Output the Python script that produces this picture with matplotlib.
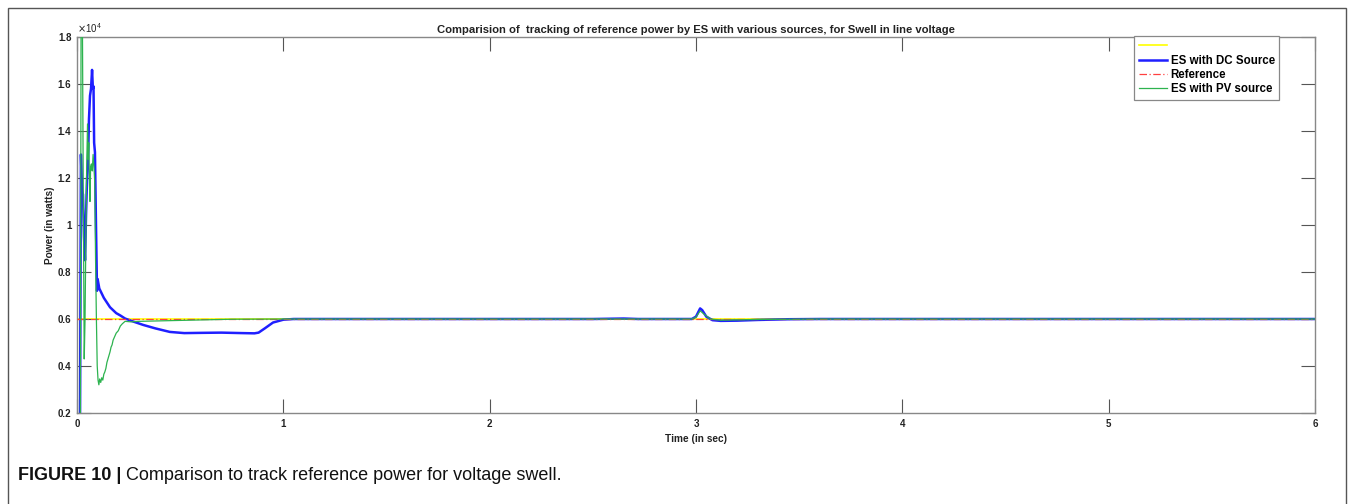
import matplotlib
matplotlib.use("Agg")
import matplotlib.pyplot as plt
from matplotlib.ticker import FuncFormatter, FixedLocator
from matplotlib.patches import Rectangle

# ---------------- data ----------------
time_dc = [0.0, 0.014, 0.019, 0.024, 0.029, 0.034, 0.039, 0.044, 0.049, 0.053,
           0.058, 0.063, 0.068, 0.073, 0.077, 0.080, 0.083, 0.087, 0.092, 0.097,
           0.100, 0.104, 0.108, 0.13, 0.16, 0.19, 0.21, 0.233, 0.27, 0.32,
           0.38, 0.45, 0.52, 0.6, 0.7, 0.8, 0.86, 0.88, 0.91, 0.95,
           1.0, 1.05, 1.5, 2.0, 2.5, 2.65, 2.72, 2.98, 3.0, 3.02,
           3.03, 3.05, 3.08, 3.12, 3.2, 3.3, 3.45, 3.6, 4.0, 5.0, 6.0]
power_dc = [0, 0, 13000, 11500, 11300, 9500, 8500, 10500, 12000, 12500,
            14500, 15500, 15800, 16600, 15800, 15900, 13500, 13100, 10000, 7200,
            7700, 7500, 7300, 6900, 6500, 6250, 6150, 6020, 5900, 5750,
            5600, 5450, 5400, 5410, 5420, 5400, 5390, 5420, 5600, 5850,
            5970, 6000, 6000, 6000, 6000, 6020, 6000, 6000, 6100, 6450,
            6380, 6100, 5950, 5920, 5930, 5960, 5990, 6000, 6000, 6000, 6000]

time_pv = [0.0, 0.016, 0.02, 0.026, 0.03, 0.035, 0.039, 0.043, 0.047, 0.051,
           0.054, 0.057, 0.06, 0.063, 0.066, 0.07, 0.074, 0.078, 0.082, 0.086,
           0.09, 0.094, 0.098, 0.102, 0.106, 0.11, 0.115, 0.12, 0.125, 0.13,
           0.135, 0.14, 0.145, 0.15, 0.155, 0.16, 0.165, 0.17, 0.175, 0.18,
           0.185, 0.19, 0.2, 0.21, 0.22, 0.233, 0.26, 0.3, 0.4, 0.5,
           0.6, 0.75, 1.0, 2.98, 3.0, 3.02, 3.04, 3.07, 3.12, 3.3, 3.6, 6.0]
power_pv = [0, 0, 20000, 19000, 12000, 4300, 6000, 9500, 12500, 14300,
            12800, 13500, 12000, 11000, 12500, 12600, 12300, 13000, 12500, 11800,
            8500, 6000, 4000, 3400, 3200, 3450, 3300, 3500, 3400, 3650,
            3750, 3900, 4150, 4300, 4450, 4600, 4800, 4900, 5100, 5200,
            5300, 5400, 5500, 5700, 5800, 5900, 5880, 5900, 5920, 5940,
            5960, 5990, 6000, 6000, 6080, 6350, 6200, 6000, 5950, 5980, 6000, 6000]

time_ref = [0.0, 6.0]
power_ref = [6000, 6000]

x_ticks = [0, 1, 2, 3, 4, 5, 6]
y_ticks = [2000, 4000, 6000, 8000, 10000, 12000, 14000, 16000, 18000]

labels = [" ", "ES with DC Source", "Reference", "ES with PV source"]
title = "Comparision of  tracking of reference power by ES with various sources, for Swell in line voltage"
caption_bold = "FIGURE 10 |"
caption_rest = " Comparison to track reference power for voltage swell."

# ---------------- figure ----------------
plt.rcParams["font.family"] = ["Liberation Sans", "DejaVu Sans"]
W, H = 1355, 504
fig = plt.figure(figsize=(W / 100, H / 100), dpi=100)
fig.patch.set_facecolor("white")

ax = fig.add_axes([77 / W, 1 - 413 / H, (1315 - 77) / W, (413 - 37) / H])

hy, = ax.plot(time_ref, power_ref, color="#ffff00", lw=1.2, zorder=1)
hb, = ax.plot(time_dc, power_dc, color="#1f1fff", lw=1.8, zorder=2)
hr, = ax.plot(time_ref, power_ref, color="#ff4040", lw=0.9, ls=(0, (6, 2, 1, 2)), zorder=3)
hg, = ax.plot(time_pv, power_pv, color="#2db34f", lw=0.9, zorder=4)

ax.set_xlim(0, 6)
ax.set_ylim(2000, 18000)
ax.xaxis.set_major_locator(FixedLocator(x_ticks))
ax.yaxis.set_major_locator(FixedLocator(y_ticks))
ax.yaxis.set_major_formatter(FuncFormatter(lambda v, p: "%g" % (v / 1e4)))
ax.xaxis.set_major_formatter(FuncFormatter(lambda v, p: "%g" % v))

ax.tick_params(direction="in", length=10, width=0.8, color="#555555",
               top=True, right=True, labelsize=7, pad=4, labelcolor="#222222")
for lab in ax.get_xticklabels() + ax.get_yticklabels():
    lab.set_fontweight("bold")
for sp in ax.spines.values():
    sp.set_color("#888888")
    sp.set_linewidth(1.0)

ax.text(0.0, 1.004, r"$\times\mathregular{10^{4}}$", transform=ax.transAxes, fontsize=7,
        ha="left", va="bottom", color="#222222")

ax.set_title(title, fontsize=8.1, fontweight="bold", pad=3, color="#222222")
ax.set_xlabel("Time (in sec)", fontsize=7.3, fontweight="bold", labelpad=4, color="#222222")
ax.set_ylabel("Power (in watts)", fontsize=7.3, fontweight="bold", labelpad=2, color="#222222")

leg = ax.legend([hy, hb, hr, hg], labels, loc="upper left",
                bbox_to_anchor=(0.854, 1.003), fancybox=False, framealpha=1,
                edgecolor="#888888", prop={"size": 8.3, "weight": "bold"},
                handlelength=2.4, handletextpad=0.35, labelspacing=0.2,
                borderpad=0.4, borderaxespad=0)
leg.get_frame().set_linewidth(0.9)

# outer frame
fig.add_artist(Rectangle((8 / W, -0.05), (1346 - 8) / W, 1 - 8 / H + 0.05,
                         transform=fig.transFigure, fill=False,
                         edgecolor="#555555", lw=1.0))

# caption
fam = ["Liberation Sans Narrow", "Liberation Sans", "DejaVu Sans"]
t1 = fig.text(18 / W, 1 - 476 / H, caption_bold, fontsize=13, fontweight="bold",
              family=fam, va="center", ha="left", color="#111111")
fig.canvas.draw()
bb = t1.get_window_extent()
fig.text(bb.x1 / W, 1 - 476 / H, caption_rest, fontsize=13, family=fam,
         va="center", ha="left", color="#111111")

fig.savefig("out.png", dpi=100, facecolor="white")
